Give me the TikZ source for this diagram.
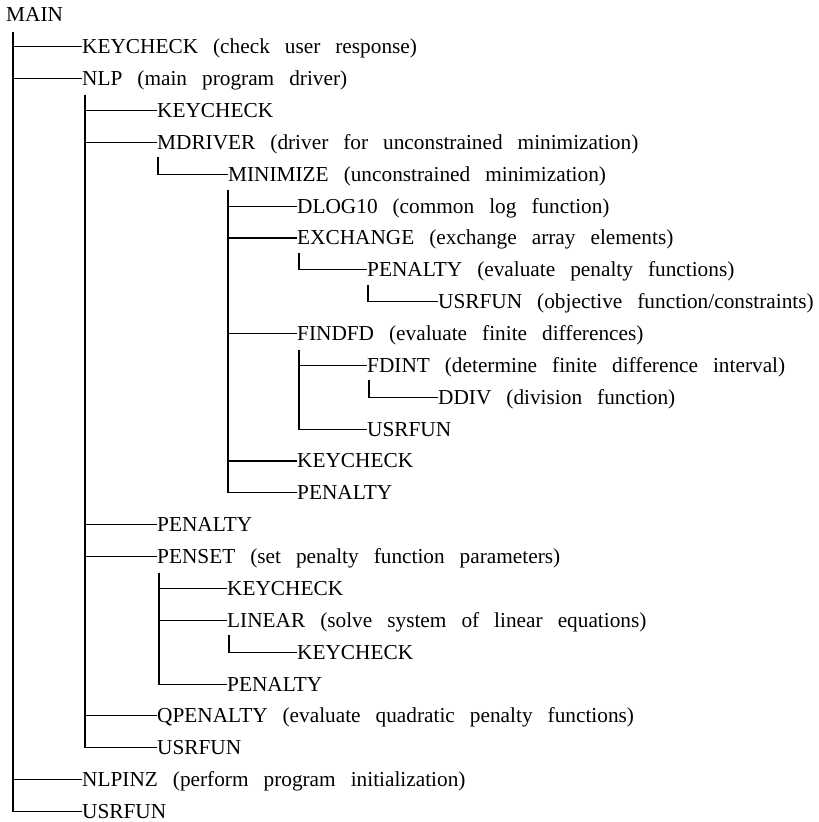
\documentclass[tikz,border=0pt]{standalone}
\usepackage{fontspec}
\setmainfont{Liberation Serif}
\begin{document}
\begin{tikzpicture}[x=1pt,y=-1pt,
  lbl/.style={anchor=west,inner sep=0pt,text height=13.9pt,text depth=0pt,
    font={\fontsize{21.3pt}{25pt}\selectfont\spaceskip=15pt\relax}},
  conn/.style={line width=1.1pt,black}]
\useasboundingbox (0,0) rectangle (819,822);
\def\rowy#1{15+31.86*#1}
\node[lbl] (main)     at (6,{\rowy{0}})   {MAIN};
\node[lbl] (kc1)      at (82,{\rowy{1}})  {KEYCHECK (check user response)};
\node[lbl] (nlp)      at (82,{\rowy{2}})  {NLP (main program driver)};
\node[lbl] (kc2)      at (157,{\rowy{3}}) {KEYCHECK};
\node[lbl] (mdriver)  at (157,{\rowy{4}}) {MDRIVER (driver for unconstrained minimization)};
\node[lbl] (minimize) at (228,{\rowy{5}}) {MINIMIZE (unconstrained minimization)};
\node[lbl] (dlog)     at (297,{\rowy{6}}) {DLOG10 (common log function)};
\node[lbl] (exch)     at (297,{\rowy{7}}) {EXCHANGE (exchange array elements)};
\node[lbl] (pena)     at (367,{\rowy{8}}) {PENALTY (evaluate penalty functions)};
\node[lbl] (usra)     at (438,{\rowy{9}}) {USRFUN (objective function/constraints)};
\node[lbl] (findfd)   at (297,{\rowy{10}}) {FINDFD (evaluate finite differences)};
\node[lbl] (fdint)    at (367,{\rowy{11}}) {FDINT (determine finite difference interval)};
\node[lbl] (ddiv)     at (438,{\rowy{12}}) {DDIV (division function)};
\node[lbl] (usrb)     at (367,{\rowy{13}}) {USRFUN};
\node[lbl] (kc3)      at (297,{\rowy{14}}) {KEYCHECK};
\node[lbl] (penb)     at (297,{\rowy{15}}) {PENALTY};
\node[lbl] (penc)     at (157,{\rowy{16}}) {PENALTY};
\node[lbl] (penset)   at (157,{\rowy{17}}) {PENSET (set penalty function parameters)};
\node[lbl] (kc4)      at (227,{\rowy{18}}) {KEYCHECK};
\node[lbl] (linear)   at (227,{\rowy{19}}) {LINEAR (solve system of linear equations)};
\node[lbl] (kc5)      at (297,{\rowy{20}}) {KEYCHECK};
\node[lbl] (pend)     at (227,{\rowy{21}}) {PENALTY};
\node[lbl] (qpen)     at (157,{\rowy{22}}) {QPENALTY (evaluate quadratic penalty functions)};
\node[lbl] (usrc)     at (157,{\rowy{23}}) {USRFUN};
\node[lbl] (nlpinz)   at (82,{\rowy{24}})  {NLPINZ (perform program initialization)};
\node[lbl] (usrd)     at (82,{\rowy{25}})  {USRFUN};
% connectors
\coordinate (vmain) at ([xshift=7pt,yshift=-17pt]main.west);
\foreach \c in {kc1,nlp,nlpinz,usrd} \draw[conn] (vmain) |- (\c.west);
\coordinate (vnlp) at ([xshift=3pt,yshift=-16pt]nlp.west);
\foreach \c in {kc2,mdriver,penc,penset,qpen,usrc} \draw[conn] (vnlp) |- (\c.west);
\coordinate (vmd) at ([xshift=1pt,yshift=-15pt]mdriver.west);
\draw[conn] (vmd) |- (minimize.west);
\coordinate (vmin) at ([xshift=0pt,yshift=-16pt]minimize.west);
\foreach \c in {dlog,exch,findfd,kc3,penb} \draw[conn] (vmin) |- (\c.west);
\coordinate (vex) at ([xshift=2pt,yshift=-15pt]exch.west);
\draw[conn] (vex) |- (pena.west);
\coordinate (vpa) at ([xshift=1pt,yshift=-15pt]pena.west);
\draw[conn] (vpa) |- (usra.west);
\coordinate (vfd) at ([xshift=2pt,yshift=-16pt]findfd.west);
\foreach \c in {fdint,usrb} \draw[conn] (vfd) |- (\c.west);
\coordinate (vfi) at ([xshift=2pt,yshift=-15pt]fdint.west);
\draw[conn] (vfi) |- (ddiv.west);
\coordinate (vps) at ([xshift=2pt,yshift=-16pt]penset.west);
\foreach \c in {kc4,linear,pend} \draw[conn] (vps) |- (\c.west);
\coordinate (vli) at ([xshift=2pt,yshift=-15pt]linear.west);
\draw[conn] (vli) |- (kc5.west);
\end{tikzpicture}
\end{document}
